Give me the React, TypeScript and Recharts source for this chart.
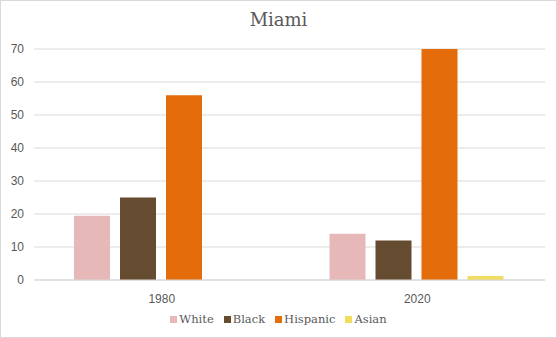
import { BarChart, Bar, XAxis, YAxis, CartesianGrid } from 'recharts';

const years = ['1980', '2020'];
const white = [19.5, 14];
const black = [25, 12];
const hispanic = [56, 70];
const asian = [0, 1.2];
const yTicks = [0, 10, 20, 30, 40, 50, 60, 70];

const series = [
  { key: 'White', color: '#e6b8b7' },
  { key: 'Black', color: '#654b30' },
  { key: 'Hispanic', color: '#e46c0a' },
  { key: 'Asian', color: '#f2dc5d' },
];

const data = years.map((year, i) => ({
  year,
  White: white[i],
  Black: black[i],
  Hispanic: hispanic[i],
  Asian: asian[i],
}));

const tickStyle = { fill: '#595959', fontSize: 12, fontFamily: 'Liberation Sans, Arial, sans-serif' };
const serif = 'DejaVu Serif, Liberation Serif, serif';

export default function App() {
  return (
    <div
      style={{
        position: 'fixed',
        left: 0,
        top: 0,
        width: 557,
        height: 338,
        boxSizing: 'border-box',
        border: '1px solid #d9d9d9',
        background: '#fff',
      }}
    >
      <div
        style={{
          position: 'absolute',
          top: 8,
          left: 0,
          width: '100%',
          textAlign: 'center',
          fontFamily: serif,
          fontSize: 18,
          color: '#595959',
        }}
      >
        Miami
      </div>
      <BarChart
        width={555}
        height={336}
        data={data}
        margin={{ top: 48, right: 11, bottom: 27, left: 0 }}
        barCategoryGap={40}
        barGap={10}
      >
        <CartesianGrid vertical={false} stroke="#d9d9d9" />
        <XAxis
          dataKey="year"
          axisLine={{ stroke: '#d9d9d9' }}
          tickLine={false}
          tick={tickStyle}
          tickMargin={8}
        />
        <YAxis
          width={33}
          domain={[0, 70]}
          ticks={yTicks}
          axisLine={false}
          tickLine={false}
          tick={tickStyle}
          tickMargin={4}
        />
        {series.map((s) => (
          <Bar key={s.key} dataKey={s.key} fill={s.color} isAnimationActive={false} />
        ))}
      </BarChart>
      <div
        style={{
          position: 'absolute',
          top: 311,
          left: 0,
          width: '100%',
          display: 'flex',
          justifyContent: 'center',
          gap: 10,
          fontFamily: serif,
          fontSize: 11.5,
          color: '#595959',
        }}
      >
        {series.map((s) => (
          <span key={s.key} style={{ display: 'flex', alignItems: 'center' }}>
            <span style={{ width: 7, height: 7, background: s.color, marginRight: 2, display: 'inline-block' }} />
            {s.key}
          </span>
        ))}
      </div>
    </div>
  );
}
